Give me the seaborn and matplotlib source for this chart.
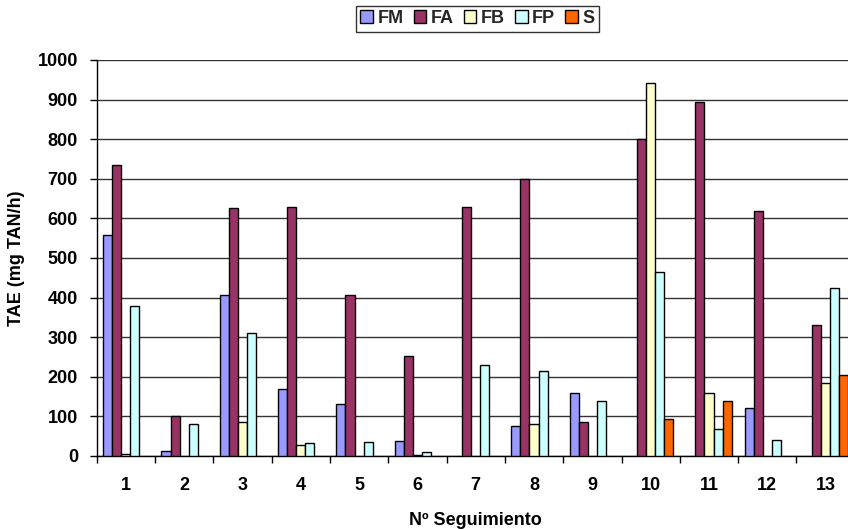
import numpy as np
import pandas as pd
import matplotlib
matplotlib.use("Agg")
import matplotlib.pyplot as plt
import seaborn as sns
from matplotlib.patches import Patch

# Monitoring rounds and TAE values (mg TAN/h) per filter type
seguimientos = ["1", "2", "3", "4", "5", "6", "7", "8", "9", "10", "11", "12", "13"]
series = ["FM", "FA", "FB", "FP", "S"]
nan = np.nan
fm = [557, 12, 407, 170, 132, 37, nan, 75, 160, nan, nan, 121, nan]
fa = [735, 100, 625, 630, 407, 253, 630, 700, 85, 800, 894, 619, 331]
fb = [5, nan, 85, 27, nan, 3, nan, 80, nan, 942, 159, nan, 184]
fp = [380, 82, 310, 33, 35, 10, 230, 215, 140, 465, 68, 40, 424]
s = [nan, nan, nan, nan, nan, nan, nan, nan, nan, 93, 139, nan, 204]
colors = ["#9999FF", "#993366", "#FFFFCC", "#CCFFFF", "#FF6600"]

values = {"FM": fm, "FA": fa, "FB": fb, "FP": fp, "S": s}
rows = []
for name in series:
    for cat, v in zip(seguimientos, values[name]):
        rows.append({"Seguimiento": cat, "Serie": name, "TAE": v})
df = pd.DataFrame(rows)

sns.set_theme(style="white")
plt.rcParams["font.family"] = ["Liberation Sans", "DejaVu Sans"]
plt.rcParams["font.weight"] = "bold"

FS = 13

fig = plt.figure(figsize=(8.48, 5.29), dpi=100)
ax = fig.add_axes([0.114, 0.138, 0.894, 0.7486])

sns.barplot(data=df, x="Seguimiento", y="TAE", hue="Serie",
            order=seguimientos, hue_order=series, palette=colors,
            width=0.78, gap=0, edgecolor="black", linewidth=1.0,
            saturation=1, errorbar=None, legend=False, ax=ax, zorder=3)

ax.set_ylim(0, 1000)
ax.set_xlim(-0.5, len(seguimientos) - 0.5)
ax.set_yticks(np.arange(0, 1001, 100))
ax.yaxis.grid(True, color="#333333", linewidth=1.0, zorder=0)
ax.xaxis.grid(False)
ax.set_axisbelow(True)

for side in ["top", "right"]:
    ax.spines[side].set_visible(False)
for side in ["left", "bottom"]:
    ax.spines[side].set_color("black")
    ax.spines[side].set_linewidth(1.0)

# category boundaries carry the x tick marks, labels sit at centres
ax.set_xticks(np.arange(len(seguimientos)))
ax.set_xticklabels(seguimientos)
ax.set_xticks(np.arange(-0.5, len(seguimientos), 1.0), minor=True)
ax.tick_params(axis="x", which="major", length=0, pad=15, labelsize=FS)
ax.tick_params(axis="x", which="minor", length=5, width=1, color="black",
               direction="out", bottom=True)
ax.tick_params(axis="y", length=5, width=1, color="black", direction="out",
               left=True, pad=8.5, labelsize=FS)
for lab in ax.get_xticklabels() + ax.get_yticklabels():
    lab.set_fontweight("bold")
    lab.set_color("black")

ax.set_xlabel("Nº Seguimiento", fontsize=FS, fontweight="bold", color="black",
              labelpad=13)
ax.set_ylabel("TAE (mg TAN/h)", fontsize=FS, fontweight="bold", color="black",
              labelpad=9)

handles = [Patch(facecolor=c, edgecolor="black", linewidth=1.0, label=n)
           for n, c in zip(series, colors)]
leg = fig.legend(handles=handles, loc="center", bbox_to_anchor=(0.563, 0.965),
                 ncol=5, frameon=True, fancybox=False, fontsize=FS,
                 handlelength=0.7, handleheight=0.7, handletextpad=0.25,
                 columnspacing=0.55, borderpad=0.25, borderaxespad=0)
leg.get_frame().set_edgecolor("black")
leg.get_frame().set_linewidth(1.0)
for t in leg.get_texts():
    t.set_fontweight("bold")

fig.savefig("out.png", dpi=100)
